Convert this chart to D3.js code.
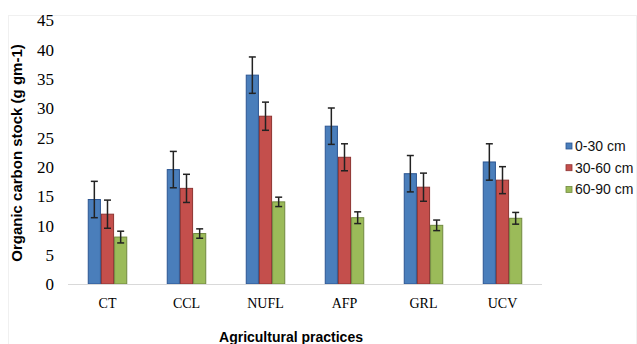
<!DOCTYPE html>
<html>
<head>
<meta charset="utf-8">
<script src="https://cdn.jsdelivr.net/npm/d3@7/dist/d3.min.js"></script>
<style>
  body { margin: 0; background: #fff; }
  svg { display: block; }
</style>
</head>
<body>
<svg id="chart"></svg>
<script>
// data
const practices = ['CT', 'CCL', 'NUFL', 'AFP', 'GRL', 'UCV'];
const depths = ['0-30 cm', '30-60 cm', '60-90 cm'];
const depth0to30 = [14.4, 19.5, 35.6, 26.9, 18.8, 20.8];
const depth30to60 = [11.9, 16.3, 28.6, 21.6, 16.5, 17.7];
const depth60to90 = [8.0, 8.6, 14.0, 11.3, 10.0, 11.2];
const err0to30 = [3.1, 3.1, 3.1, 3.1, 3.1, 3.1];
const err30to60 = [2.4, 2.4, 2.4, 2.3, 2.4, 2.3];
const err60to90 = [1.0, 0.8, 0.8, 1.0, 0.9, 1.0];
const yTicks = [0, 5, 10, 15, 20, 25, 30, 35, 40, 45];

const fills = ['#4a7ebb', '#c44f4c', '#9bbb59'];
const strokes = ['#2c5592', '#8e3432', '#71893f'];

const width = 637, height = 344;
const margin = { left: 68, right: 542, top: 20, bottom: 284 };

const svg = d3.select('#chart')
  .attr('width', width)
  .attr('height', height);

// faint chart frame
svg.append('rect')
  .attr('x', 8.5).attr('y', 15.5)
  .attr('width', 628).attr('height', 340)
  .attr('fill', 'none')
  .attr('stroke', '#f0f0f0');

const x = d3.scaleBand()
  .domain(practices)
  .range([margin.left, margin.right])
  .paddingInner(0.5)
  .paddingOuter(0.25);

const xInner = d3.scaleBand()
  .domain(depths)
  .range([0, x.bandwidth()]);

const y = d3.scaleLinear()
  .domain([0, 45])
  .range([margin.bottom, margin.top]);

const values = [depth0to30, depth30to60, depth60to90];
const errors = [err0to30, err30to60, err60to90];

let rows = [];
practices.forEach((p, i) => {
  depths.forEach((d, j) => {
    rows.push({ practice: p, depth: d, k: j, value: values[j][i], err: errors[j][i] });
  });
});

// y axis ticks (no line, serif labels)
const yAxis = svg.append('g')
  .attr('transform', `translate(${margin.left - 14},0)`)
  .call(d3.axisLeft(y).tickValues(yTicks).tickSize(0).tickPadding(0));
yAxis.select('.domain').remove();
yAxis.selectAll('text')
  .attr('dy', '0.34em')
  .style('font-family', '"Liberation Serif", "Times New Roman", serif')
  .style('font-size', '17px')
  .attr('fill', '#000');

// bars
const groups = svg.selectAll('g.bar')
  .data(rows)
  .enter()
  .append('g')
  .attr('class', 'bar');

groups.append('rect')
  .attr('x', d => x(d.practice) + xInner(d.depth) + 0.5)
  .attr('y', d => y(d.value))
  .attr('width', xInner.bandwidth() - 1)
  .attr('height', d => y(0) - y(d.value))
  .attr('fill', d => fills[d.k])
  .attr('stroke', d => strokes[d.k])
  .attr('stroke-width', 1);

// error bars
const cx = d => x(d.practice) + xInner(d.depth) + xInner.bandwidth() / 2;
groups.append('line')
  .attr('x1', cx).attr('x2', cx)
  .attr('y1', d => y(d.value + d.err))
  .attr('y2', d => y(d.value - d.err))
  .attr('stroke', '#222')
  .attr('stroke-width', 1.5);
groups.append('line')
  .attr('x1', d => cx(d) - 3.5).attr('x2', d => cx(d) + 3.5)
  .attr('y1', d => y(d.value + d.err))
  .attr('y2', d => y(d.value + d.err))
  .attr('stroke', '#222')
  .attr('stroke-width', 1.5);
groups.append('line')
  .attr('x1', d => cx(d) - 3.5).attr('x2', d => cx(d) + 3.5)
  .attr('y1', d => y(d.value - d.err))
  .attr('y2', d => y(d.value - d.err))
  .attr('stroke', '#222')
  .attr('stroke-width', 1.5);

// x axis line + labels
svg.append('line')
  .attr('x1', margin.left).attr('x2', margin.right)
  .attr('y1', y(0) + 0.5).attr('y2', y(0) + 0.5)
  .attr('stroke', '#d9d9d9')
  .attr('stroke-width', 1);

const xAxis = svg.append('g')
  .attr('transform', `translate(0,${y(0) + 19})`)
  .call(d3.axisBottom(x).tickSize(0).tickPadding(0));
xAxis.select('.domain').remove();
xAxis.selectAll('text')
  .attr('dy', '0.35em')
  .style('font-family', '"Liberation Serif", "Times New Roman", serif')
  .style('font-size', '14px')
  .attr('fill', '#000');

// axis titles
svg.append('text')
  .text('Agricultural practices')
  .attr('x', 291)
  .attr('y', 342)
  .attr('text-anchor', 'middle')
  .style('font-family', '"Liberation Sans", Arial, sans-serif')
  .style('font-weight', 'bold')
  .style('font-size', '14px');

svg.append('text')
  .text('Organic carbon stock (g gm-1)')
  .attr('transform', 'translate(22,153) rotate(-90)')
  .attr('text-anchor', 'middle')
  .style('font-family', '"Liberation Sans", Arial, sans-serif')
  .style('font-weight', 'bold')
  .style('font-size', '15px');

// legend
const legend = svg.selectAll('g.legend')
  .data(depths)
  .enter()
  .append('g')
  .attr('class', 'legend')
  .attr('transform', (d, i) => `translate(566,${146 + i * 21.7})`);

legend.append('rect')
  .attr('x', 0).attr('y', -3)
  .attr('width', 6).attr('height', 6)
  .attr('fill', (d, i) => fills[i])
  .attr('stroke', (d, i) => strokes[i])
  .attr('stroke-width', 0.8);

legend.append('text')
  .text(d => d)
  .attr('x', 9)
  .attr('dy', '0.36em')
  .style('font-family', '"Liberation Sans", Arial, sans-serif')
  .style('font-size', '14px')
  .attr('fill', '#111');
</script>
</body>
</html>
